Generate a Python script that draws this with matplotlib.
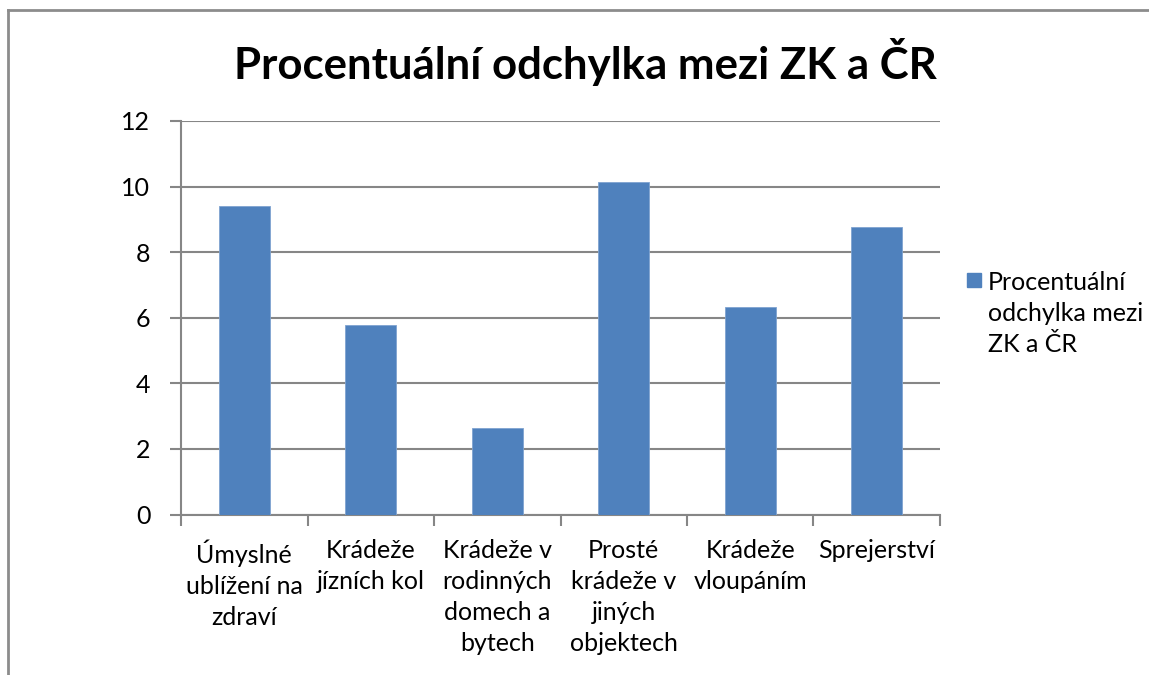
import matplotlib
matplotlib.use("Agg")
import matplotlib.pyplot as plt
from matplotlib.patches import Rectangle
from matplotlib.lines import Line2D

# data
kategorie = ["Úmyslné\nublížení na\nzdraví", "Krádeže\njízních kol",
             "Krádeže v\nrodinných\ndomech a\nbytech", "Prosté\nkrádeže v\njiných\nobjektech",
             "Krádeže\nvloupáním", "Sprejerství"]
odchylka = [9.41, 5.78, 2.64, 10.15, 6.33, 8.76]
serie = "Procentuální\nodchylka mezi\nZK a ČR"
titulek = "Procentuální odchylka mezi ZK a ČR"
yticks = [0, 2, 4, 6, 8, 10, 12]

plt.rcParams["font.family"] = ["Lato", "DejaVu Sans"]
modra = "#4F81BD"
seda = "#868686"
fs = 18

fig = plt.figure(figsize=(11.49, 6.75), dpi=100)
ax = fig.add_axes([181 / 1149, 160.5 / 675, 759 / 1149, 393.5 / 675])

x = range(len(odchylka))
ax.bar(x, odchylka, width=0.4, color=modra, edgecolor="#7FA3D0", linewidth=0.6, zorder=3)

ax.set_ylim(0, 12); ax.set_xlim(-0.5, len(odchylka) - 0.5)
ax.set_yticks(yticks)
ax.set_yticklabels([str(v) for v in yticks], fontsize=fs)
ax.yaxis.grid(True, color=seda, lw=1.5, zorder=0)
ax.tick_params(axis="y", length=8, width=1.5, color=seda, pad=14)

# hranice kategorií jako hlavní značky, popisky na vedlejších
ax.set_xticks([i - 0.5 for i in range(len(odchylka) + 1)])
ax.set_xticklabels([])
ax.set_xticks(list(x), minor=True)
ax.set_xticklabels(kategorie, minor=True, fontsize=fs, linespacing=1.42)
ax.tick_params(axis="x", which="major", length=8, width=1.5, color=seda)
ax.tick_params(axis="x", which="minor", length=0, pad=18)

for s in ["top", "right"]:
    ax.spines[s].set_visible(False)
for s in ["left", "bottom"]:
    ax.spines[s].set_color(seda); ax.spines[s].set_linewidth(1.5)

fig.text(585 / 1149, 1 - 62 / 675, titulek, fontsize=31.5, fontweight="bold",
         ha="center", va="center")

# legenda
fig.patches.append(Rectangle((967 / 1149, 1 - 287 / 675), 14 / 1149, 14 / 675,
                             transform=fig.transFigure, color=modra))
fig.text(988 / 1149, 1 - 271 / 675, serie, fontsize=fs, va="top", ha="left",
         linespacing=1.42)

# rámeček grafu
fig.add_artist(Line2D([8 / 1149, 1], [1 - 10 / 675, 1 - 10 / 675], color="#8c8c8c", lw=2,
                      transform=fig.transFigure))
fig.add_artist(Line2D([8 / 1149, 8 / 1149], [0, 1 - 10 / 675], color="#8c8c8c", lw=2,
                      transform=fig.transFigure))

fig.savefig("out.png", dpi=100)
